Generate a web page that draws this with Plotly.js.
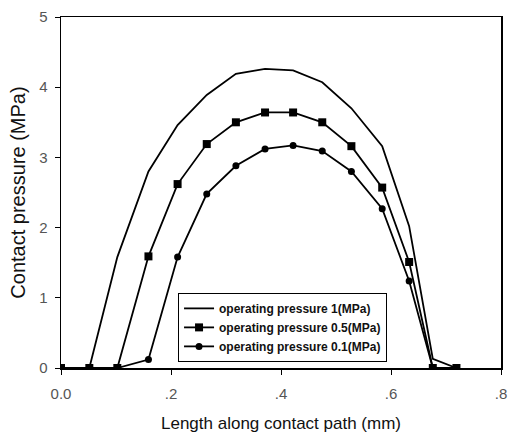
<!DOCTYPE html>
<html><head><meta charset="utf-8">
<script src="https://cdn.plot.ly/plotly-3.0.1.min.js"></script>
<style>html,body{margin:0;padding:0;background:#fff}#chart{width:511px;height:433px}</style>
</head><body><div id="chart"></div>
<script>
const xPts = [0, 0.0515, 0.1024, 0.159, 0.212, 0.265, 0.318, 0.371, 0.422, 0.475, 0.528, 0.584, 0.633, 0.676, 0.719];
const p1 = [0, 0, 1.58, 2.80, 3.46, 3.89, 4.19, 4.26, 4.24, 4.07, 3.70, 3.16, 2.02, 0.13, 0];
const p05 = [0, 0, 0, 1.59, 2.62, 3.19, 3.50, 3.64, 3.64, 3.50, 3.16, 2.57, 1.51, 0, 0];
const p01 = [0, 0, 0, 0.12, 1.58, 2.48, 2.88, 3.12, 3.17, 3.09, 2.80, 2.27, 1.24, 0, 0];
const names = ['operating pressure 1(MPa)', 'operating pressure 0.5(MPa)', 'operating pressure 0.1(MPa)'];
const xTickVals = [0, 0.2, 0.4, 0.6, 0.8];
const xTickText = ['0.0', '.2', '.4', '.6', '.8'];
const yTickVals = [0, 1, 2, 3, 4, 5];

const data = [
  {x: xPts, y: p1, name: names[0], mode: 'lines', line: {color: '#000', width: 1.8}},
  {x: xPts, y: p05, name: names[1], mode: 'lines+markers', line: {color: '#000', width: 1.8}, marker: {symbol: 'square', size: 8, color: '#000'}},
  {x: xPts, y: p01, name: names[2], mode: 'lines+markers', line: {color: '#000', width: 1.8}, marker: {symbol: 'circle', size: 7, color: '#000'}}
];
const layout = {
  width: 511, height: 433,
  margin: {l: 61, r: 10, t: 17, b: 65},
  paper_bgcolor: '#fff', plot_bgcolor: '#fff',
  font: {family: 'Arial, "Liberation Sans", sans-serif', color: '#000'},
  showlegend: true,
  legend: {x: 0.266, y: 0.214, xanchor: 'left', yanchor: 'top', bgcolor: '#fff', bordercolor: '#000', borderwidth: 1,
    font: {size: 12, family: 'Arial, "Liberation Sans", sans-serif', color: '#111', weight: 'bold'}, tracegroupgap: 0, itemwidth: 30},
  xaxis: {range: [0, 0.8], tickvals: xTickVals, ticktext: xTickText, showgrid: false, zeroline: false,
    showline: true, linecolor: '#000', linewidth: 1.5, mirror: true, ticks: 'outside', ticklen: 5, tickcolor: '#000',
    ticklabelstandoff: 6,
    tickfont: {size: 15, color: '#555'},
    title: {text: 'Length along contact path (mm)', font: {size: 17, color: '#111'}, standoff: 17}},
  yaxis: {range: [0, 5], tickvals: yTickVals, showgrid: false, zeroline: false,
    showline: true, linecolor: '#000', linewidth: 1.5, mirror: true, ticks: 'outside', ticklen: 5, tickcolor: '#000',
    ticklabelstandoff: 4,
    tickfont: {size: 15, color: '#555'},
    title: {text: 'Contact pressure (MPa)', font: {size: 20, color: '#111'}, standoff: 8}}
};
Plotly.newPlot('chart', data, layout, {displayModeBar: false, staticPlot: true});
</script></body></html>
